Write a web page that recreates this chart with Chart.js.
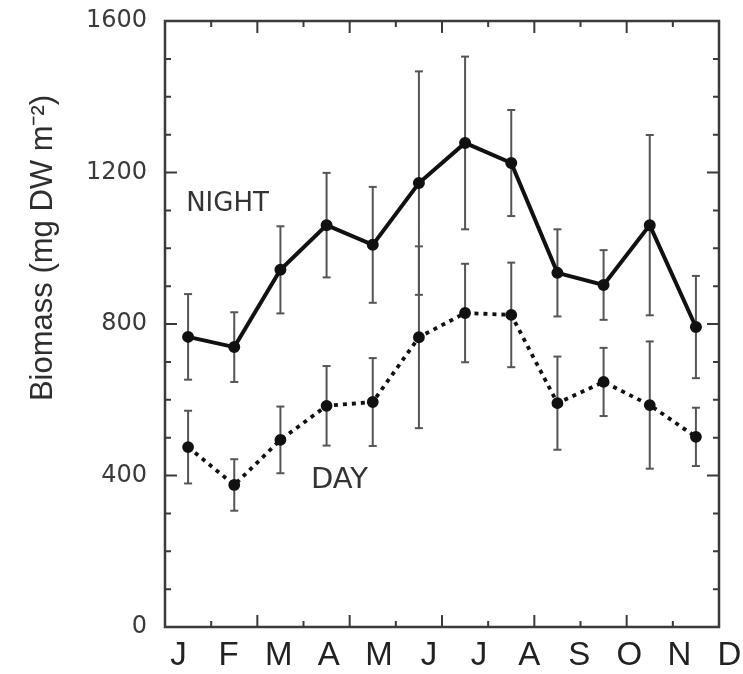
<!DOCTYPE html>
<html><head><meta charset="utf-8">
<script src="https://cdn.jsdelivr.net/npm/chart.js@4.4.0/dist/chart.umd.min.js"></script>
<style>html,body{margin:0;padding:0;background:#fff;}</style>
</head><body>
<canvas id="c" width="743" height="674"></canvas>
<script>
// ---- data ----
const months = ['J','F','M','A','M','J','J','A','S','O','N','D'];
const nightMean = [766, 739, 943, 1061, 1009, 1172, 1278, 1225, 935, 903, 1061, 792];
const nightErr  = [113,  92, 115,  138,  153,  295,  228,  140, 115,  92,  238, 135];
const dayMean   = [475, 375, 494,  584,  594,  765,  829,  824, 591, 647,  586, 502];
const dayErr    = [ 96,  68,  88,  105,  116,  240,  130,  138, 123,  90,  168,  77];
const yTicks = [0, 400, 800, 1200, 1600];
const yTitle = 'Biomass (mg DW m\u207B\u00B2)';
const seriesLabels = ['NIGHT', 'DAY'];

// month i is centred at i + 0.5 on a 0..12 scale
const pts = (mean) => mean.map((m, i) => ({x: i + 0.5, y: m}));
const errSegs = (mean, err) => {
  const out = [];
  mean.forEach((m, i) => {
    out.push({x: i + 0.5, y: m - err[i]}, {x: i + 0.5, y: m + err[i]}, {x: i + 0.5, y: null});
  });
  return out;
};
const errCaps = (mean, err) => {
  const out = [];
  mean.forEach((m, i) => { out.push({x: i + 0.5, y: m - err[i]}, {x: i + 0.5, y: m + err[i]}); });
  return out;
};

const decor = {
  id: 'decor',
  afterDatasetsDraw(chart) {
    const {ctx, chartArea: a, scales: {x, y}} = chart;
    ctx.save();
    // frame
    ctx.strokeStyle = '#3a3a3a';
    ctx.lineWidth = 2.5;
    ctx.strokeRect(a.left, a.top, a.right - a.left, a.bottom - a.top);
    // inward ticks on all sides
    ctx.lineWidth = 2;
    ctx.beginPath();
    for (let k = 0; k <= 12; k++) {
      const px = x.getPixelForValue(k);
      const len = k % 2 === 0 ? 12 : 6;
      ctx.moveTo(px, a.bottom); ctx.lineTo(px, a.bottom - len);
      ctx.moveTo(px, a.top); ctx.lineTo(px, a.top + len);
    }
    for (let v = 0; v <= 1600; v += 100) {
      const py = y.getPixelForValue(v);
      const len = v % 400 === 0 ? 12 : 6;
      ctx.moveTo(a.left, py); ctx.lineTo(a.left + len, py);
      ctx.moveTo(a.right, py); ctx.lineTo(a.right - len, py);
    }
    ctx.stroke();
    // series labels
    ctx.fillStyle = '#333';
    ctx.textAlign = 'center';
    ctx.textBaseline = 'middle';
    ctx.font = '26px "DejaVu Sans"';
    ctx.fillText(seriesLabels[0], x.getPixelForValue(1.354), y.getPixelForValue(1117));
    ctx.font = '29px "DejaVu Sans"';
    ctx.fillText(seriesLabels[1], x.getPixelForValue(3.78), y.getPixelForValue(388));
    // y-axis title
    ctx.translate(43, 248);
    ctx.rotate(-Math.PI / 2);
    ctx.font = '31px "Liberation Sans"';
    ctx.fillStyle = '#2e2e2e';
    ctx.fillText(yTitle, 0, 0);
    ctx.restore();
  }
};

new Chart(document.getElementById('c'), {
  type: 'line',
  data: {
    datasets: [
      {label: seriesLabels[0], data: pts(nightMean), borderColor: '#111', borderWidth: 4,
       pointRadius: 4, pointBackgroundColor: '#111', pointBorderColor: '#111', tension: 0, order: 1},
      {label: seriesLabels[1], data: pts(dayMean), borderColor: '#111', borderWidth: 3.8, borderDash: [4, 5],
       pointRadius: 4, pointBackgroundColor: '#111', pointBorderColor: '#111', tension: 0, order: 1},
      {label: 'night err', data: errSegs(nightMean, nightErr), borderColor: '#555', borderWidth: 2,
       pointRadius: 0, spanGaps: false, order: 3},
      {label: 'day err', data: errSegs(dayMean, dayErr), borderColor: '#555', borderWidth: 2,
       pointRadius: 0, spanGaps: false, order: 3},
      {label: 'night caps', data: errCaps(nightMean, nightErr), showLine: false, pointStyle: 'line',
       pointRadius: 4, pointBorderWidth: 2, pointBorderColor: '#555', borderColor: '#555', order: 3},
      {label: 'day caps', data: errCaps(dayMean, dayErr), showLine: false, pointStyle: 'line',
       pointRadius: 4, pointBorderWidth: 2, pointBorderColor: '#555', borderColor: '#555', order: 3}
    ]
  },
  options: {
    responsive: false,
    animation: false,
    devicePixelRatio: 1,
    events: [],
    layout: {padding: {top: 21, right: 24, left: 0, bottom: 0}},
    plugins: {legend: {display: false}, tooltip: {enabled: false}},
    scales: {
      x: {type: 'linear', min: 0, max: 12, display: false},
      xl: {
        type: 'linear', position: 'bottom', min: -0.2695, max: 10.79,
        afterBuildTicks: (s) => { s.ticks = months.map((_, i) => ({value: i})); },
        ticks: {autoSkip: false, maxRotation: 0, minRotation: 0, padding: 9, color: '#222',
                font: {family: 'Liberation Sans', size: 33},
                callback: (v) => months[v]},
        grid: {display: false, drawTicks: false},
        border: {display: false},
        afterFit: (s) => { s.height = 47; s.paddingLeft = 0; s.paddingRight = 0; }
      },
      y: {
        type: 'linear', min: 0, max: 1600,
        afterBuildTicks: (s) => { s.ticks = yTicks.map(v => ({value: v})); },
        ticks: {padding: 18, color: '#3a3a3a', font: {family: 'DejaVu Sans', size: 24},
                callback: (v) => String(v)},
        grid: {display: false, drawTicks: false},
        border: {display: false},
        afterFit: (s) => { s.width = 165; s.paddingTop = 0; s.paddingBottom = 0; }
      }
    }
  },
  plugins: [decor]
});
</script>
</body></html>
